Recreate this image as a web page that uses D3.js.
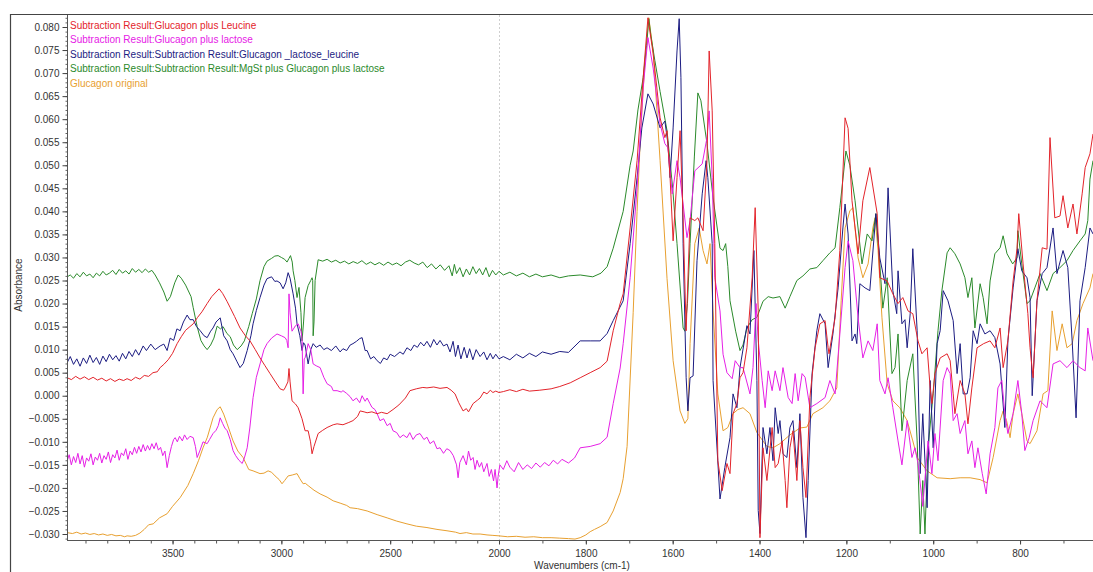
<!DOCTYPE html>
<html><head><meta charset="utf-8">
<script src="https://cdn.jsdelivr.net/npm/d3@7"></script>
<style>
body{margin:0;background:#fff;}
svg{display:block;font-family:"Liberation Sans",Arial,sans-serif;}
</style></head>
<body><svg id="c" width="1093" height="572"></svg>
<script>
const seriesNames = [
  "Subtraction Result:Glucagon plus Leucine",
  "Subtraction Result:Glucagon plus lactose",
  "Subtraction Result:Subtraction Result:Glucagon _lactose_leucine",
  "Subtraction Result:Subtraction Result:MgSt plus Glucagon plus lactose",
  "Glucagon original"
];
const seriesColors = ["#e3242b","#e620e6","#1c1c82","#2b8a2b","#e8a030"];
const xMajorTicks = [3500,3000,2500,2000,1800,1600,1400,1200,1000,800];
const yTicks = [0.080,0.075,0.070,0.065,0.060,0.055,0.050,0.045,0.040,0.035,0.030,0.025,0.020,0.015,0.010,0.005,0.000,-0.005,-0.010,-0.015,-0.020,-0.025,-0.030];

const redData = [[3984,0.0039],[3965,0.0035],[3945,0.0042],[3925,0.0036],[3905,0.0041],[3885,0.0035],[3865,0.0040],[3845,0.0034],[3825,0.0038],[3805,0.0032],[3785,0.0037],[3765,0.0031],[3745,0.0036],[3725,0.0033],[3709,0.0037],[3690,0.0033],[3670,0.0040],[3650,0.0036],[3630,0.0044],[3610,0.0042],[3590,0.0050],[3570,0.0052],[3557,0.0061],[3540,0.0068],[3520,0.0078],[3500,0.0092],[3479,0.0113],[3460,0.0128],[3440,0.0142],[3420,0.0150],[3405,0.0156],[3385,0.0170],[3365,0.0182],[3341,0.0200],[3320,0.0215],[3300,0.0225],[3286,0.0232],[3270,0.0222],[3250,0.0205],[3235,0.0191],[3215,0.0172],[3190,0.0147],[3165,0.0130],[3144,0.0119],[3120,0.0100],[3098,0.0082],[3075,0.0065],[3052,0.0048],[3030,0.0032],[3006,0.0015],[2990,0.0012],[2983,0.0017],[2970,0.0030],[2965,0.0059],[2960,0.0030],[2951,-0.0011],[2935,-0.0018],[2923,-0.0026],[2905,-0.0050],[2891,-0.0076],[2877,-0.0076],[2866,-0.0100],[2859,-0.0126],[2850,-0.0110],[2831,-0.0082],[2810,-0.0075],[2790,-0.0069],[2762,-0.0063],[2744,-0.0061],[2717,-0.0063],[2690,-0.0058],[2671,-0.0054],[2650,-0.0045],[2638,-0.0033],[2620,-0.0035],[2606,-0.0037],[2584,-0.0035],[2560,-0.0039],[2540,-0.0036],[2514,-0.0039],[2487,-0.0030],[2460,-0.0020],[2430,-0.0005],[2409,0.0011],[2380,0.0015],[2350,0.0018],[2331,0.0017],[2300,0.0019],[2271,0.0016],[2239,0.0018],[2220,0.0012],[2202,0.0004],[2185,-0.0015],[2165,-0.0033],[2150,-0.0028],[2140,-0.0035],[2119,-0.0017],[2100,-0.0010],[2087,-0.0005],[2070,0.0008],[2055,0.0004],[2040,0.0012],[2028,0.0007],[2015,0.0010],[2000,0.0007],
[1990,0.0009],[1975,0.0013],[1960,0.0009],[1945,0.0014],[1930,0.0010],[1906,0.0012],[1880,0.0015],[1860,0.0020],[1836,0.0028],[1813,0.0039],[1790,0.0050],[1767,0.0061],[1751,0.0075],[1737,0.0141],[1721,0.0200],[1714,0.0221],[1698,0.0364],[1682,0.0510],[1668,0.0690],[1657,0.0820],[1645,0.0742],[1629,0.0603],[1618,0.0560],[1613,0.0575],[1606,0.0473],[1599,0.0336],[1590,0.0473],[1583,0.0575],[1576,0.0386],[1569,0.0141],[1560,0.0386],[1549,0.0380],[1542,0.0386],[1530,0.0358],[1521,0.0510],[1516,0.0748],[1509,0.0618],[1503,0.0330],[1496,-0.0141],[1486,-0.0206],[1475,-0.0147],[1468,-0.0169],[1461,-0.0039],[1452,-0.0017],[1445,0.0039],[1438,0.0050],[1429,0.0104],[1417,0.0256],[1410,0.0408],[1403,0.0184],[1399,-0.0308],[1392,-0.0113],[1383,-0.0184],[1371,-0.0069],[1364,-0.0156],[1357,-0.0147],[1348,-0.0098],[1341,-0.0184],[1337,-0.0243],[1330,-0.0113],[1323,-0.0076],[1314,-0.0184],[1307,-0.0054],[1300,-0.0156],[1293,-0.0221],[1284,-0.0004],[1272,0.0104],[1261,0.0156],[1249,0.0163],[1242,0.0104],[1240,0.0091],[1226,0.0169],[1215,0.0315],[1203,0.0603],[1196,0.0580],[1187,0.0423],[1173,0.0308],[1162,0.0423],[1146,0.0495],[1129,0.0395],[1123,0.0256],[1106,0.0249],[1093,0.0221],[1081,0.0200],[1070,0.0213],[1058,0.0184],[1047,0.0178],[1035,0.0119],[1026,0.0091],[1014,0.0104],[1007,0.0017],[1003,-0.0017],[996,0.0048],[984,0.0082],[968,0.0091],[961,0.0076],[954,0.0004],[950,-0.0039],[938,0.0033],[927,0.0004],[920,-0.0061],[911,0.0017],[899,0.0104],[884,0.0113],[869,0.0119],[858,0.0104],[846,0.0147],[839,0.0061],[828,0.0119],[816,0.0249],[807,0.0319],[803,0.0395],[793,0.0286],[782,0.0178],[777,0.0104],[770,0.0039],[761,0.0206],[749,0.0321],[738,0.0318],[731,0.0560],[720,0.0386],[708,0.0390],[701,0.0434],[690,0.0364],[678,0.0416],[669,0.0351],[657,0.0438],[650,0.0495],[639,0.0525],[632,0.0568]];

const magentaData = [[3984,-0.0141],[3975,-0.0128],[3965,-0.0150],[3955,-0.0132],[3945,-0.0145],[3935,-0.0125],[3925,-0.0148],[3915,-0.0130],[3905,-0.0155],[3895,-0.0135],[3885,-0.0142],[3875,-0.0126],[3865,-0.0150],[3855,-0.0133],[3845,-0.0140],[3835,-0.0125],[3825,-0.0146],[3815,-0.0130],[3805,-0.0138],[3795,-0.0122],[3785,-0.0145],[3775,-0.0128],[3765,-0.0135],[3755,-0.0118],[3745,-0.0140],[3735,-0.0124],[3725,-0.0130],[3715,-0.0115],[3705,-0.0138],[3695,-0.0120],[3685,-0.0128],[3675,-0.0112],[3665,-0.0125],[3655,-0.0110],[3645,-0.0122],[3635,-0.0106],[3625,-0.0120],[3615,-0.0108],[3605,-0.0118],[3595,-0.0104],[3585,-0.0115],[3575,-0.0102],[3565,-0.0118],[3555,-0.0112],[3545,-0.0130],[3535,-0.0120],[3525,-0.0156],[3515,-0.0130],[3505,-0.0110],[3495,-0.0095],[3488,-0.0091],[3478,-0.0100],[3468,-0.0088],[3455,-0.0098],[3445,-0.0085],[3433,-0.0095],[3420,-0.0088],[3405,-0.0091],[3395,-0.0110],[3387,-0.0134],[3375,-0.0120],[3360,-0.0100],[3341,-0.0104],[3330,-0.0095],[3314,-0.0082],[3300,-0.0075],[3290,-0.0065],[3281,-0.0048],[3270,-0.0060],[3260,-0.0070],[3249,-0.0076],[3235,-0.0095],[3222,-0.0119],[3210,-0.0130],[3195,-0.0140],[3180,-0.0147],[3170,-0.0135],[3157,-0.0113],[3145,-0.0070],[3130,-0.0004],[3115,0.0040],[3098,0.0069],[3080,0.0100],[3066,0.0113],[3045,0.0125],[3020,0.0134],[3000,0.0130],[2983,0.0126],[2975,0.0120],[2969,0.0104],[2965,0.0221],[2960,0.0180],[2951,0.0140],[2935,0.0152],[2923,0.0156],[2910,0.0140],[2905,0.0126],[2900,0.0004],[2895,0.0080],[2891,0.0082],[2877,0.0113],[2865,0.0100],[2854,0.0069],[2840,0.0065],[2822,0.0061],[2805,0.0040],[2790,0.0026],[2770,0.0020],[2762,0.0011],[2744,0.0011],[2725,0.0008],[2717,0.0011],[2700,0.0005],[2684,-0.0002],[2671,-0.0011],[2655,-0.0005],[2640,-0.0015],[2629,0.0000],[2615,-0.0012],[2606,-0.0005],[2593,-0.0017],[2584,-0.0025],[2570,-0.0030],[2560,-0.0039],[2547,-0.0054],[2530,-0.0050],[2514,-0.0065],[2500,-0.0060],[2487,-0.0076],[2470,-0.0080],[2455,-0.0091],[2440,-0.0085],[2423,-0.0091],[2410,-0.0080],[2395,-0.0095],[2380,-0.0085],[2363,-0.0082],[2345,-0.0095],[2331,-0.0090],[2317,-0.0104],[2300,-0.0098],[2285,-0.0115],[2271,-0.0113],[2255,-0.0125],[2240,-0.0115],[2225,-0.0119],[2210,-0.0130],[2195,-0.0150],[2188,-0.0178],[2180,-0.0145],[2165,-0.0130],[2150,-0.0150],[2140,-0.0120],[2130,-0.0140],[2119,-0.0134],[2110,-0.0160],[2101,-0.0140],[2090,-0.0155],[2080,-0.0145],[2070,-0.0165],[2055,-0.0147],[2045,-0.0175],[2035,-0.0160],[2025,-0.0185],[2018,-0.0160],[2009,-0.0200],[2004,-0.0175],[1998,-0.0150],
[1990,-0.0160],[1982,-0.0141],[1975,-0.0155],[1965,-0.0165],[1955,-0.0145],[1945,-0.0160],[1935,-0.0150],[1925,-0.0158],[1915,-0.0146],[1905,-0.0155],[1895,-0.0145],[1885,-0.0152],[1875,-0.0140],[1865,-0.0148],[1855,-0.0138],[1840,-0.0146],[1826,-0.0135],[1813,-0.0113],[1790,-0.0110],[1767,-0.0104],[1751,-0.0090],[1737,-0.0017],[1721,0.0060],[1714,0.0113],[1698,0.0256],[1682,0.0451],[1668,0.0668],[1657,0.0777],[1645,0.0711],[1629,0.0590],[1618,0.0547],[1611,0.0538],[1601,0.0438],[1590,0.0510],[1583,0.0473],[1576,0.0416],[1567,0.0343],[1560,0.0380],[1549,0.0488],[1532,0.0503],[1521,0.0560],[1516,0.0618],[1509,0.0473],[1503,0.0256],[1491,0.0184],[1484,0.0090],[1475,0.0050],[1463,0.0037],[1456,0.0076],[1445,0.0061],[1438,0.0061],[1422,0.0004],[1415,0.0061],[1408,0.0200],[1403,0.0120],[1394,0.0033],[1387,-0.0026],[1380,0.0054],[1371,0.0011],[1364,0.0054],[1353,0.0011],[1346,0.0061],[1334,-0.0004],[1325,-0.0017],[1318,0.0048],[1311,-0.0011],[1302,0.0048],[1295,0.0040],[1284,-0.0026],[1268,-0.0017],[1249,-0.0004],[1238,0.0033],[1226,0.0004],[1215,0.0134],[1203,0.0278],[1196,0.0336],[1185,0.0293],[1173,0.0169],[1162,0.0082],[1150,0.0119],[1139,0.0098],[1129,0.0156],[1123,0.0033],[1111,0.0004],[1104,0.0039],[1093,-0.0026],[1081,-0.0098],[1072,-0.0150],[1060,-0.0054],[1049,-0.0134],[1042,-0.0113],[1035,-0.0147],[1024,-0.0240],[1012,-0.0098],[1003,-0.0169],[996,-0.0082],[989,-0.0141],[977,0.0033],[968,0.0061],[961,0.0048],[954,-0.0054],[945,-0.0039],[938,-0.0082],[927,-0.0054],[920,-0.0126],[911,-0.0098],[904,-0.0156],[897,-0.0113],[887,-0.0169],[878,-0.0213],[869,-0.0126],[858,-0.0069],[851,0.0017],[842,0.0033],[835,-0.0039],[828,-0.0082],[816,-0.0039],[805,0.0033],[796,-0.0039],[789,-0.0119],[779,-0.0091],[770,-0.0054],[754,-0.0011],[738,-0.0026],[724,0.0069],[708,0.0076],[692,0.0061],[678,0.0076],[662,0.0061],[650,0.0054],[644,0.0147],[632,0.0076]];

const navyData = [[3984,0.0072],[3970,0.0085],[3955,0.0068],[3940,0.0080],[3925,0.0064],[3910,0.0082],[3895,0.0070],[3880,0.0088],[3865,0.0072],[3850,0.0083],[3835,0.0068],[3820,0.0086],[3805,0.0074],[3790,0.0090],[3775,0.0078],[3760,0.0087],[3745,0.0075],[3730,0.0092],[3715,0.0080],[3700,0.0096],[3685,0.0085],[3670,0.0100],[3655,0.0088],[3635,0.0108],[3620,0.0098],[3600,0.0112],[3580,0.0100],[3557,0.0108],[3540,0.0112],[3525,0.0098],[3511,0.0125],[3495,0.0120],[3480,0.0145],[3465,0.0141],[3450,0.0160],[3433,0.0175],[3420,0.0165],[3405,0.0165],[3390,0.0150],[3373,0.0141],[3355,0.0130],[3341,0.0126],[3325,0.0140],[3314,0.0147],[3300,0.0160],[3281,0.0169],[3265,0.0130],[3249,0.0119],[3235,0.0100],[3222,0.0091],[3205,0.0075],[3190,0.0061],[3175,0.0070],[3157,0.0098],[3140,0.0130],[3130,0.0156],[3115,0.0185],[3098,0.0213],[3080,0.0240],[3066,0.0254],[3045,0.0258],[3030,0.0248],[3020,0.0249],[3006,0.0245],[2992,0.0232],[2980,0.0245],[2969,0.0267],[2960,0.0255],[2946,0.0221],[2935,0.0190],[2928,0.0156],[2915,0.0130],[2905,0.0098],[2898,0.0115],[2891,0.0110],[2877,0.0069],[2865,0.0100],[2854,0.0113],[2840,0.0105],[2822,0.0110],[2805,0.0100],[2790,0.0104],[2770,0.0098],[2750,0.0108],[2730,0.0095],[2717,0.0102],[2700,0.0098],[2684,0.0110],[2671,0.0113],[2655,0.0118],[2640,0.0124],[2629,0.0126],[2615,0.0098],[2606,0.0098],[2590,0.0080],[2575,0.0085],[2560,0.0076],[2545,0.0070],[2530,0.0082],[2514,0.0078],[2500,0.0090],[2480,0.0085],[2455,0.0095],[2440,0.0090],[2423,0.0104],[2405,0.0098],[2390,0.0110],[2375,0.0105],[2360,0.0116],[2345,0.0108],[2331,0.0118],[2315,0.0105],[2300,0.0122],[2285,0.0110],[2271,0.0120],[2255,0.0108],[2239,0.0112],[2225,0.0095],[2211,0.0118],[2200,0.0085],[2188,0.0110],[2175,0.0080],[2160,0.0105],[2147,0.0082],[2135,0.0102],[2120,0.0078],[2105,0.0100],[2087,0.0085],[2070,0.0095],[2055,0.0078],[2040,0.0092],[2028,0.0080],[2015,0.0090],[2000,0.0080],
[1990,0.0085],[1975,0.0078],[1960,0.0090],[1945,0.0082],[1930,0.0092],[1915,0.0085],[1900,0.0095],[1880,0.0090],[1860,0.0096],[1840,0.0094],[1813,0.0119],[1790,0.0119],[1767,0.0119],[1751,0.0135],[1737,0.0163],[1714,0.0206],[1698,0.0330],[1682,0.0473],[1671,0.0581],[1657,0.0655],[1645,0.0633],[1629,0.0581],[1618,0.0596],[1611,0.0547],[1606,0.0473],[1599,0.0581],[1590,0.0748],[1585,0.0818],[1581,0.0690],[1576,0.0330],[1569,0.0039],[1565,-0.0033],[1560,0.0039],[1553,0.0043],[1544,0.0293],[1532,0.0438],[1523,0.0510],[1519,0.0473],[1509,0.0330],[1507,0.0033],[1491,-0.0224],[1480,-0.0156],[1468,-0.0091],[1461,0.0004],[1452,-0.0026],[1445,0.0061],[1429,0.0152],[1422,0.0134],[1413,0.0315],[1406,0.0033],[1403,-0.0249],[1399,-0.0299],[1392,-0.0069],[1383,-0.0126],[1376,-0.0069],[1369,-0.0141],[1364,-0.0026],[1357,-0.0082],[1353,-0.0054],[1346,-0.0126],[1337,-0.0134],[1330,-0.0069],[1323,-0.0054],[1314,-0.0156],[1307,-0.0039],[1300,-0.0221],[1293,-0.0308],[1288,-0.0184],[1279,0.0048],[1268,0.0141],[1261,0.0178],[1249,0.0156],[1242,0.0061],[1231,0.0134],[1219,0.0234],[1208,0.0364],[1203,0.0416],[1196,0.0351],[1187,0.0119],[1180,0.0134],[1176,0.0113],[1169,0.0243],[1157,0.0234],[1146,0.0228],[1132,0.0395],[1123,0.0299],[1111,0.0243],[1104,0.0451],[1093,0.0228],[1084,0.0178],[1081,0.0271],[1072,0.0156],[1065,0.0165],[1060,0.0104],[1053,0.0178],[1047,0.0319],[1037,0.0141],[1030,-0.0169],[1024,-0.0039],[1014,-0.0243],[1007,0.0033],[1000,-0.0113],[991,0.0113],[984,0.0141],[977,0.0228],[966,0.0206],[954,0.0163],[945,0.0048],[938,0.0113],[931,0.0004],[922,0.0004],[915,0.0039],[908,0.0141],[899,0.0113],[892,0.0156],[881,0.0134],[869,0.0141],[858,0.0126],[846,0.0069],[835,-0.0069],[828,0.0119],[816,0.0234],[805,0.0319],[796,0.0271],[784,0.0256],[777,0.0213],[772,0.0000],[761,0.0206],[749,0.0265],[738,0.0278],[724,0.0364],[715,0.0265],[701,0.0315],[690,0.0278],[680,0.0119],[671,-0.0048],[662,0.0206],[650,0.0278],[639,0.0364],[632,0.0351]];

const greenData = [[3984,0.0258],[3970,0.0262],[3955,0.0255],[3940,0.0265],[3925,0.0258],[3910,0.0268],[3895,0.0260],[3880,0.0264],[3865,0.0256],[3850,0.0266],[3835,0.0260],[3820,0.0270],[3805,0.0262],[3790,0.0266],[3775,0.0272],[3760,0.0263],[3745,0.0274],[3730,0.0266],[3715,0.0271],[3700,0.0264],[3685,0.0276],[3670,0.0268],[3655,0.0274],[3640,0.0267],[3625,0.0275],[3610,0.0268],[3595,0.0272],[3580,0.0262],[3560,0.0245],[3540,0.0225],[3525,0.0205],[3510,0.0215],[3490,0.0245],[3474,0.0262],[3460,0.0255],[3440,0.0240],[3415,0.0215],[3405,0.0191],[3387,0.0150],[3370,0.0120],[3355,0.0108],[3341,0.0100],[3325,0.0110],[3310,0.0125],[3295,0.0151],[3280,0.0145],[3268,0.0150],[3250,0.0135],[3235,0.0128],[3220,0.0110],[3203,0.0100],[3185,0.0108],[3170,0.0119],[3150,0.0150],[3134,0.0178],[3115,0.0210],[3098,0.0250],[3080,0.0280],[3066,0.0292],[3045,0.0298],[3030,0.0303],[3015,0.0304],[3000,0.0300],[2985,0.0296],[2974,0.0290],[2965,0.0298],[2958,0.0304],[2950,0.0290],[2946,0.0271],[2938,0.0250],[2928,0.0213],[2919,0.0235],[2910,0.0180],[2905,0.0119],[2898,0.0160],[2891,0.0213],[2877,0.0239],[2865,0.0250],[2859,0.0256],[2856,0.0250],[2854,0.0130],[2850,0.0160],[2845,0.0250],[2831,0.0295],[2810,0.0292],[2790,0.0296],[2770,0.0290],[2750,0.0294],[2730,0.0288],[2710,0.0292],[2690,0.0286],[2670,0.0291],[2650,0.0287],[2630,0.0293],[2610,0.0285],[2590,0.0290],[2570,0.0284],[2550,0.0289],[2530,0.0283],[2510,0.0290],[2490,0.0284],[2470,0.0288],[2450,0.0282],[2430,0.0290],[2410,0.0294],[2390,0.0288],[2370,0.0284],[2350,0.0290],[2330,0.0278],[2310,0.0286],[2290,0.0275],[2270,0.0284],[2250,0.0272],[2230,0.0282],[2215,0.0260],[2205,0.0285],[2195,0.0265],[2180,0.0278],[2165,0.0258],[2150,0.0275],[2135,0.0262],[2120,0.0280],[2105,0.0265],[2090,0.0276],[2075,0.0262],[2060,0.0278],[2045,0.0258],[2030,0.0272],[2015,0.0262],[2000,0.0270],
[1990,0.0262],[1975,0.0268],[1960,0.0260],[1945,0.0266],[1930,0.0258],[1915,0.0264],[1900,0.0258],[1880,0.0262],[1860,0.0256],[1840,0.0260],[1813,0.0262],[1784,0.0258],[1765,0.0266],[1751,0.0280],[1737,0.0320],[1714,0.0400],[1698,0.0500],[1691,0.0531],[1680,0.0620],[1668,0.0690],[1660,0.0760],[1655,0.0818],[1650,0.0780],[1641,0.0727],[1629,0.0660],[1613,0.0575],[1600,0.0450],[1590,0.0330],[1576,0.0147],[1572,0.0140],[1566,0.0200],[1560,0.0330],[1550,0.0520],[1542,0.0657],[1535,0.0640],[1521,0.0547],[1507,0.0429],[1491,0.0320],[1484,0.0315],[1478,0.0330],[1473,0.0280],[1468,0.0206],[1455,0.0140],[1445,0.0098],[1438,0.0110],[1429,0.0147],[1417,0.0165],[1406,0.0170],[1392,0.0205],[1380,0.0215],[1369,0.0212],[1353,0.0215],[1341,0.0190],[1330,0.0215],[1314,0.0250],[1300,0.0260],[1284,0.0275],[1268,0.0278],[1254,0.0293],[1238,0.0310],[1226,0.0321],[1215,0.0408],[1201,0.0531],[1192,0.0500],[1180,0.0423],[1164,0.0286],[1152,0.0351],[1141,0.0336],[1132,0.0395],[1123,0.0286],[1116,0.0190],[1106,0.0256],[1095,0.0048],[1088,0.0061],[1081,0.0134],[1072,-0.0076],[1060,0.0033],[1047,0.0091],[1037,-0.0098],[1030,-0.0300],[1024,-0.0184],[1019,-0.0300],[1012,-0.0113],[1000,0.0004],[989,0.0141],[980,0.0228],[968,0.0310],[961,0.0321],[950,0.0308],[938,0.0286],[927,0.0256],[920,0.0213],[911,0.0256],[904,0.0147],[892,0.0243],[885,0.0213],[876,0.0156],[869,0.0249],[858,0.0308],[846,0.0321],[839,0.0347],[830,0.0308],[817,0.0286],[807,0.0299],[805,0.0358],[796,0.0286],[784,0.0200],[777,0.0206],[766,0.0234],[754,0.0265],[738,0.0228],[724,0.0265],[708,0.0278],[692,0.0293],[678,0.0315],[662,0.0336],[650,0.0351],[644,0.0380],[639,0.0470],[632,0.0510]];

const orangeData = [[3984,-0.0297],[3960,-0.0299],[3940,-0.0296],[3920,-0.0300],[3900,-0.0298],[3880,-0.0301],[3860,-0.0299],[3840,-0.0302],[3820,-0.0300],[3800,-0.0303],[3780,-0.0301],[3760,-0.0304],[3740,-0.0303],[3720,-0.0306],[3709,-0.0304],[3690,-0.0305],[3670,-0.0303],[3650,-0.0298],[3630,-0.0290],[3610,-0.0280],[3589,-0.0278],[3560,-0.0265],[3525,-0.0256],[3500,-0.0240],[3465,-0.0221],[3430,-0.0195],[3405,-0.0169],[3380,-0.0140],[3360,-0.0113],[3340,-0.0090],[3314,-0.0048],[3295,-0.0030],[3281,-0.0024],[3265,-0.0040],[3249,-0.0061],[3222,-0.0098],[3200,-0.0120],[3176,-0.0134],[3150,-0.0160],[3130,-0.0163],[3098,-0.0169],[3080,-0.0168],[3061,-0.0163],[3045,-0.0166],[3029,-0.0174],[3010,-0.0182],[2997,-0.0191],[2985,-0.0184],[2969,-0.0174],[2950,-0.0172],[2928,-0.0169],[2915,-0.0180],[2900,-0.0191],[2890,-0.0190],[2877,-0.0195],[2850,-0.0205],[2822,-0.0213],[2790,-0.0220],[2762,-0.0228],[2730,-0.0233],[2700,-0.0238],[2684,-0.0243],[2650,-0.0245],[2606,-0.0250],[2560,-0.0258],[2514,-0.0265],[2470,-0.0272],[2423,-0.0278],[2380,-0.0283],[2331,-0.0286],[2285,-0.0290],[2239,-0.0293],[2200,-0.0296],[2179,-0.0299],[2150,-0.0297],[2120,-0.0300],[2087,-0.0300],[2055,-0.0302],[2028,-0.0303],[2000,-0.0304],
[1980,-0.0306],[1960,-0.0305],[1940,-0.0307],[1920,-0.0306],[1900,-0.0308],[1880,-0.0308],[1860,-0.0309],[1840,-0.0310],[1825,-0.0311],[1813,-0.0308],[1800,-0.0302],[1790,-0.0295],[1780,-0.0290],[1767,-0.0284],[1751,-0.0275],[1737,-0.0250],[1721,-0.0210],[1714,-0.0180],[1705,-0.0110],[1691,0.0180],[1682,0.0400],[1675,0.0547],[1664,0.0727],[1655,0.0820],[1645,0.0748],[1629,0.0510],[1613,0.0254],[1599,0.0076],[1583,-0.0033],[1572,-0.0060],[1565,-0.0050],[1560,0.0113],[1549,0.0330],[1539,0.0364],[1530,0.0315],[1521,0.0286],[1514,0.0330],[1507,0.0184],[1496,0.0004],[1484,-0.0076],[1473,-0.0069],[1461,-0.0039],[1450,-0.0030],[1438,-0.0026],[1422,-0.0039],[1406,-0.0080],[1383,-0.0110],[1369,-0.0113],[1353,-0.0104],[1330,-0.0085],[1307,-0.0070],[1291,-0.0068],[1277,-0.0039],[1254,-0.0026],[1238,-0.0011],[1222,0.0017],[1212,0.0206],[1203,0.0364],[1192,0.0401],[1185,0.0408],[1173,0.0299],[1162,0.0256],[1150,0.0286],[1139,0.0364],[1134,0.0386],[1127,0.0315],[1118,0.0169],[1106,0.0026],[1093,-0.0011],[1077,-0.0026],[1060,-0.0054],[1047,-0.0098],[1037,-0.0134],[1014,-0.0163],[991,-0.0178],[961,-0.0180],[938,-0.0178],[915,-0.0178],[892,-0.0182],[876,-0.0189],[862,-0.0134],[846,-0.0054],[839,-0.0033],[831,-0.0054],[823,-0.0091],[816,-0.0039],[805,0.0004],[796,-0.0039],[784,-0.0098],[777,-0.0104],[761,-0.0076],[747,0.0004],[736,0.0011],[726,0.0184],[715,0.0098],[703,0.0156],[692,0.0104],[680,0.0113],[669,0.0163],[655,0.0200],[639,0.0234],[632,0.0265]];

const seriesData = [redData, magentaData, navyData, greenData, orangeData];

const svg = d3.select("#c");
const L = 67, R = 1093, T = 15, B = 540;
const x = d3.scaleLinear().domain([3985, 2000, 632]).range([L, 499, R]);
const y = d3.scaleLinear().domain([-0.030, 0.080]).range([534, 27]);

svg.append("path").attr("d", `M10.5,572 V14.5 H1093`).attr("fill","none").attr("stroke","#444").attr("stroke-width",1.2);

svg.append("line").attr("x1", x(2000)+0.5).attr("x2", x(2000)+0.5).attr("y1", T).attr("y2", B)
  .attr("stroke","#cfcfcf").attr("stroke-dasharray","2,2");

svg.append("clipPath").attr("id","clip").append("rect").attr("x",L).attr("y",T).attr("width",R-L).attr("height",B-T);

const line = d3.line().x(d=>x(d[0])).y(d=>y(d[1]));
const g = svg.append("g").attr("clip-path","url(#clip)");
[4,3,2,1,0].forEach(i=>{
  g.append("path").datum(seriesData[i]).attr("d", line)
    .attr("fill","none").attr("stroke", seriesColors[i]).attr("stroke-width",1).attr("stroke-linejoin","round");
});

const yMinor = d3.range(-31, 83).map(v=>v/1000);
const yAxisMinor = svg.append("g").attr("transform",`translate(${L+0.5},0)`)
  .call(d3.axisLeft(y).tickValues(yMinor).tickSize(2).tickFormat(""));
yAxisMinor.select(".domain").remove();
yAxisMinor.selectAll("line").attr("stroke","#666");
const yAxis = svg.append("g").attr("transform",`translate(${L+0.5},0)`)
  .call(d3.axisLeft(y).tickValues(yTicks).tickSize(5).tickPadding(3).tickFormat(d3.format(".3f")));
yAxis.select(".domain").attr("d", `M0,${T}V${B}`).attr("stroke","#555");
yAxis.selectAll("line").attr("stroke","#444");
yAxis.selectAll("text").attr("font-size","10px").attr("fill","#333").attr("font-family","Liberation Sans, Arial, sans-serif");

const xMinor = d3.range(600, 4000, 100).filter(v=>v<=3985 && v>=632);
const xAxisMinor = svg.append("g").attr("transform",`translate(0,${B+0.5})`)
  .call(d3.axisBottom(x).tickValues(xMinor).tickSize(3).tickFormat(""));
xAxisMinor.select(".domain").remove();
xAxisMinor.selectAll("line").attr("stroke","#555");
const xAxis = svg.append("g").attr("transform",`translate(0,${B+0.5})`)
  .call(d3.axisBottom(x).tickValues(xMajorTicks).tickSize(4).tickPadding(5).tickFormat(d3.format("d")));
xAxis.select(".domain").attr("d", `M${L},0H${R}`).attr("stroke","#555");
xAxis.selectAll("line").attr("stroke","#444");
xAxis.selectAll("text").attr("font-size","10px").attr("fill","#333").attr("font-family","Liberation Sans, Arial, sans-serif");

svg.append("text").attr("transform","translate(22,285) rotate(-90)").attr("text-anchor","middle")
  .attr("font-size","10px").attr("fill","#333").text("Absorbance");
svg.append("text").attr("x",582).attr("y",569).attr("text-anchor","middle")
  .attr("font-size","10px").attr("fill","#333").text("Wavenumbers (cm-1)");

seriesNames.forEach((n,i)=>{
  svg.append("text").attr("x",70).attr("y",28.5+i*14.5).attr("font-size","10px")
    .attr("fill",seriesColors[i]).text(n);
});
</script></body></html>
